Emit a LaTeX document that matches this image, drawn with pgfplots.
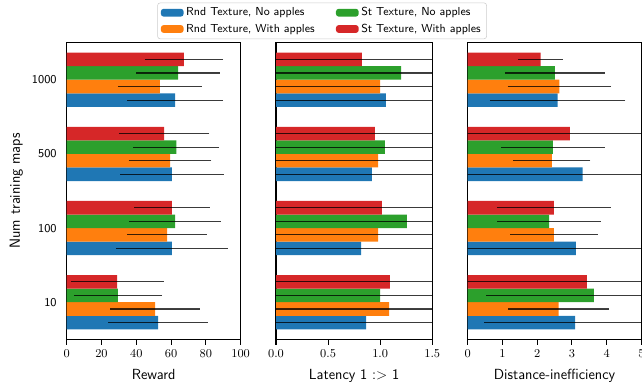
\documentclass[border=0pt]{standalone}
\usepackage{pgfplots}
\usepackage{pgfplotstable}
\pgfplotsset{compat=1.18}
\definecolor{tabblue}{HTML}{1F77B4}
\definecolor{taborange}{HTML}{FF7F0E}
\definecolor{tabgreen}{HTML}{2CA02C}
\definecolor{tabred}{HTML}{D62728}

% y: 0=10, 1=100, 2=500, 3=1000 ; value and error for each series
\pgfplotstableread{
y b be o oe g ge r re
0 52.5 28.6 50.8 25.7 29.5 25.4 29.0 26.7
1 60.5 32.2 57.7 22.8 62.3 26.3 60.5 21.7
2 60.5 29.7 59.4 23.8 63.0 24.6 56.0 26.0
3 62.3 27.6 53.5 24.0 64.0 24.0 67.4 22.5
}\reward
\pgfplotstableread{
y b be o oe g ge r re
0 0.864 2 1.085 2 1.000 2 1.094 2
1 0.816 2 0.980 2 1.257 2 1.017 2
2 0.920 2 0.980 2 1.046 2 0.950 2
3 1.055 2 1.000 2 1.200 2 0.825 2
}\latency
\pgfplotstableread{
y b be o oe g ge r re
0 3.09 2.62 2.62 1.45 3.63 3.10 3.43 3.60
1 3.11 3.30 2.48 1.26 2.34 1.49 2.48 1.64
2 3.31 3.50 2.42 1.11 2.45 1.49 2.94 3.20
3 2.59 1.95 2.64 1.49 2.51 1.44 2.10 0.64
}\dist

\pgfplotsset{
  panel/.style={
    scale only axis,
    height=222.5pt,
    xbar,
    bar width=0.183,
    ymin=-0.5, ymax=3.5,
    ytick={0,1,2,3},
    tick pos=left,
    ytick style={draw=none},
    tick align=outside,
    major tick length=4pt,
    axis line style={line width=0.8pt},
    every tick/.style={line width=0.8pt, black},
    xticklabel style={font=\fontsize{9}{10}\selectfont},
    yticklabel style={font=\sffamily\fontsize{9}{10}\selectfont},
    xlabel style={font=\sffamily\fontsize{11}{13}\selectfont, yshift=-2pt},
    ylabel style={font=\sffamily\fontsize{11}{13}\selectfont},
    legend image code/.code={\fill[##1, draw=none] (0pt,-2.9pt) rectangle (17pt,2.9pt);},
    error bars/x dir=both,
    error bars/x explicit,
    error bars/error mark=none,
    error bars/error bar style={black, opacity=0.75, line width=0.9pt},
  },
  sb/.style={fill=tabblue, draw=none, bar shift=-0.2745},
  so/.style={fill=taborange, draw=none, bar shift=-0.0915},
  sg/.style={fill=tabgreen, draw=none, bar shift=0.0915},
  sr/.style={fill=tabred, draw=none, bar shift=0.2745},
}

\begin{document}
\begin{tikzpicture}
\useasboundingbox (-50pt,-36.5pt) rectangle (431.5pt,254.5pt);
\begin{axis}[panel,
  at={(0pt,0pt)}, anchor=south west,
  width=130.5pt,
  xmin=0, xmax=100,
  xtick={0,20,40,60,80,100},
  yticklabels={10,100,500,1000},
  xlabel={Reward},
  ylabel={Num training maps},
  legend columns=2,
  transpose legend,
  legend cell align=left,
  legend style={at={(1.468,1.135)}, anchor=north, draw=black!20, rounded corners=2pt,
    font=\sffamily\fontsize{8.7}{10}\selectfont,
    inner xsep=2.5pt, inner ysep=1.5pt,
    /tikz/every even column/.append style={column sep=14pt},
    row sep=0.5pt},
]
\addplot+[sb] table[x=b, y=y, x error=be] {\reward};
\addlegendentry{Rnd Texture, No apples}
\addplot+[so] table[x=o, y=y, x error=oe] {\reward};
\addlegendentry{Rnd Texture, With apples}
\addplot+[sg] table[x=g, y=y, x error=ge] {\reward};
\addlegendentry{St Texture, No apples}
\addplot+[sr] table[x=r, y=y, x error=re] {\reward};
\addlegendentry{St Texture, With apples}
\end{axis}

\begin{axis}[panel,
  at={(157pt,0pt)}, anchor=south west,
  width=117.2pt,
  xmin=0, xmax=1.5,
  xtick={0,0.5,1,1.5},
  xticklabel style={/pgf/number format/.cd, fixed, fixed zerofill, precision=1},
  scaled x ticks=false,
  yticklabels={},
  xlabel={Latency 1 :> 1},
]
\addplot+[sb] table[x=b, y=y, x error=be] {\latency};
\addplot+[so] table[x=o, y=y, x error=oe] {\latency};
\addplot+[sg] table[x=g, y=y, x error=ge] {\latency};
\addplot+[sr] table[x=r, y=y, x error=re] {\latency};
\end{axis}

\begin{axis}[panel,
  at={(300.75pt,0pt)}, anchor=south west,
  width=130.35pt,
  xmin=0, xmax=5,
  xtick={0,1,2,3,4,5},
  yticklabels={},
  xlabel={Distance-inefficiency},
]
\addplot+[sb] table[x=b, y=y, x error=be] {\dist};
\addplot+[so] table[x=o, y=y, x error=oe] {\dist};
\addplot+[sg] table[x=g, y=y, x error=ge] {\dist};
\addplot+[sr] table[x=r, y=y, x error=re] {\dist};
\end{axis}
\end{tikzpicture}
\end{document}
